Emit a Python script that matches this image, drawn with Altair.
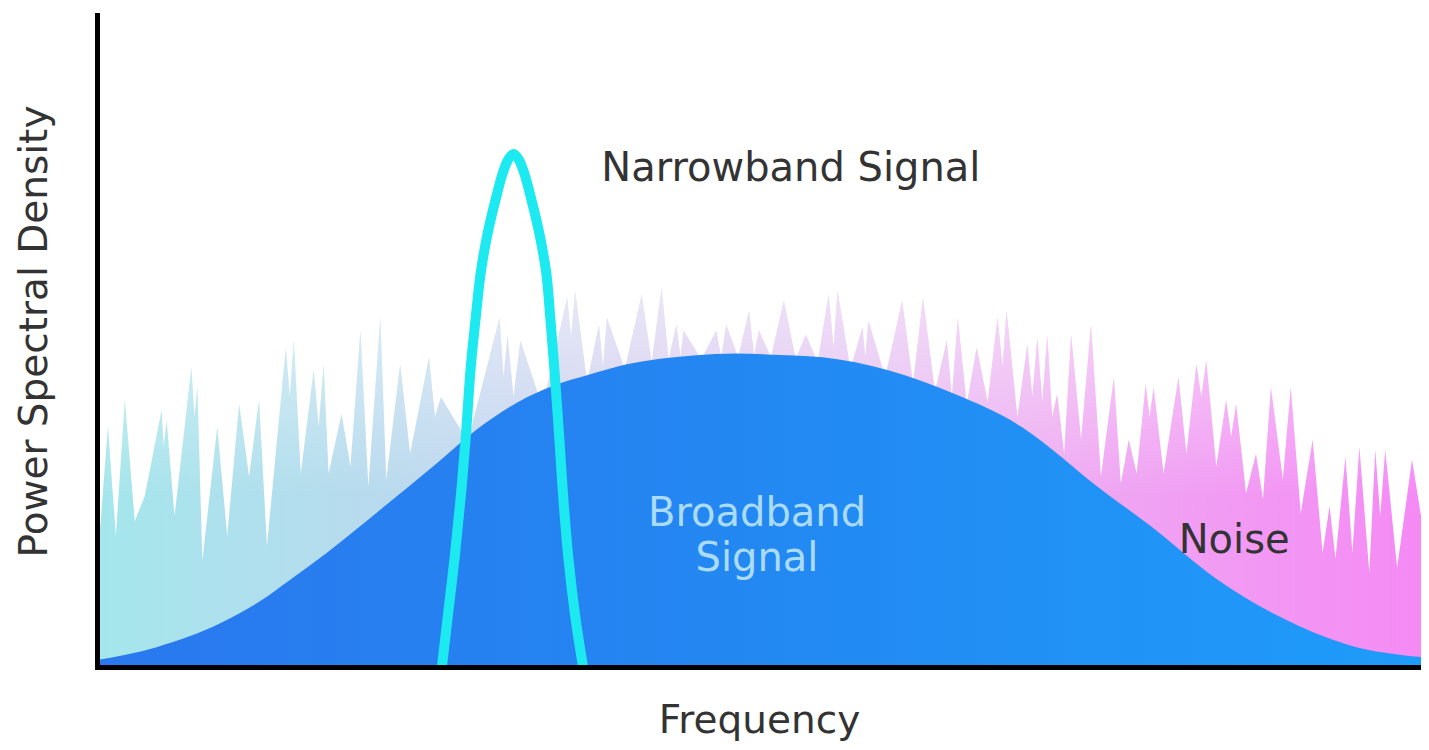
import altair as alt
import pandas as pd

# Noise spectrum (frequency, PSD) - spiky profile
NOISE = [
    (0, 112), (1, 112), (11, 242), (19, 132), (28, 269), (38, 147), (48, 172), (65, 259),
    (67, 222), (70, 249), (78, 152), (95, 302), (98, 252), (101, 282), (106, 107), (121, 242),
    (131, 132), (143, 265), (153, 192), (163, 269), (171, 122), (190, 322), (194, 272), (198, 329),
    (205, 195), (218, 299), (223, 242), (228, 305), (233, 195), (246, 255), (255, 202), (265, 339),
    (273, 182), (285, 352), (291, 189), (305, 305), (315, 215), (334, 312), (340, 252), (346, 272),
    (373, 227), (405, 352), (409, 292), (413, 335), (419, 272), (426, 329), (448, 262), (473, 372),
    (477, 332), (481, 379), (493, 287), (505, 345), (509, 302), (513, 352), (531, 300), (548, 375),
    (558, 307), (568, 382), (575, 310), (583, 345), (587, 312), (590, 339), (608, 310), (623, 339),
    (628, 312), (633, 345), (645, 312), (656, 359), (661, 314), (666, 339), (678, 312), (691, 369),
    (703, 310), (713, 335), (725, 307), (736, 375), (741, 322), (745, 379), (758, 300), (770, 342),
    (773, 312), (776, 349), (793, 292), (810, 369), (821, 285), (831, 372), (843, 277), (855, 329),
    (860, 272), (866, 352), (875, 264), (885, 322), (896, 267), (906, 352), (911, 302), (915, 359),
    (926, 252), (936, 325), (941, 272), (946, 332), (951, 267), (956, 335), (961, 252), (966, 275),
    (973, 215), (980, 335), (990, 229), (1000, 345), (1010, 192), (1023, 292), (1030, 185), (1038, 229),
    (1046, 195), (1055, 285), (1059, 252), (1063, 282), (1073, 195), (1088, 292), (1096, 215), (1106, 305),
    (1111, 272), (1116, 309), (1126, 202), (1136, 269), (1141, 232), (1146, 265), (1156, 175), (1166, 215),
    (1173, 169), (1181, 282), (1193, 189), (1201, 282), (1211, 155), (1223, 229), (1233, 115), (1240, 162),
    (1246, 109), (1256, 212), (1263, 115), (1270, 222), (1280, 95), (1286, 219), (1291, 152), (1296, 219),
    (1308, 100), (1323, 209), (1332, 152),
]

# Broadband signal (bell shaped)
BROADBAND = [
    (0, 7), (60, 20), (126, 45), (165, 67), (193, 87), (231, 115), (293, 165), (338, 202),
    (383, 240), (433, 272), (466, 286), (493, 294), (533, 305), (600, 314), (643, 316), (673, 315),
    (730, 312), (796, 299), (863, 275), (930, 242), (972, 210), (996, 190), (1060, 142), (1126, 89),
    (1193, 49), (1260, 22), (1332, 10),
]

# Narrowband signal (narrow peak)
NARROWBAND = [
    (347, 0), (353, 52), (360, 112), (366, 172), (371, 232), (376, 302), (381, 352), (386, 397),
    (393, 437), (400, 467), (408, 497), (414, 512), (419, 517), (424, 512), (430, 497), (438, 467),
    (445, 437), (452, 397), (456, 352), (460, 302), (465, 232), (469, 172), (474, 112), (481, 52),
    (489, 0),
]

# Labels: (text, frequency, psd)
DARK_LABELS = [("Narrowband Signal", 698, 490), ("Noise", 1144, 115)]
LIGHT_LABELS = [("Broadband", 664, 142), ("Signal", 664, 97)]

X_MAX = 1332
Y_MAX = 657
FONT = "DejaVu Sans"

noise_df = pd.DataFrame(NOISE, columns=["freq", "psd"])
broad_df = pd.DataFrame(BROADBAND, columns=["freq", "psd"])
narrow_df = pd.DataFrame(NARROWBAND, columns=["freq", "psd"])
dark_df = pd.DataFrame(DARK_LABELS, columns=["label", "freq", "psd"])
light_df = pd.DataFrame(LIGHT_LABELS, columns=["label", "freq", "psd"])

x_enc = alt.X(
    "freq:Q",
    scale=alt.Scale(domain=[0, X_MAX], nice=False, zero=False),
    axis=alt.Axis(
        title="Frequency", labels=False, ticks=False, grid=False,
        domainColor="black", domainWidth=5, domainCap="square",
        titleFont=FONT, titleFontSize=39, titleFontWeight="normal", titleColor="#333333",
        titleX=662, titleY=65, titleBaseline="alphabetic", titleAlign="center", zindex=2,
    ),
)
y_enc = alt.Y(
    "psd:Q",
    scale=alt.Scale(domain=[0, Y_MAX], nice=False, zero=False),
    axis=alt.Axis(
        title="Power Spectral Density", labels=False, ticks=False, grid=False,
        domainColor="black", domainWidth=5, domainCap="square",
        titleFont=FONT, titleFontSize=39, titleFontWeight="normal", titleColor="#333333",
        titleX=-51, titleY=316, titleAngle=-90, titleBaseline="alphabetic", titleAlign="center",
        zindex=2,
    ),
)

noise_fill = alt.Gradient(
    gradient="linear", x1=0, x2=1, y1=0, y2=0,
    stops=[
        alt.GradientStop(color="#a4e6ec", offset=0),
        alt.GradientStop(color="#bcd8ee", offset=0.25),
        alt.GradientStop(color="#d6c6ee", offset=0.45),
        alt.GradientStop(color="#eeaaf2", offset=0.72),
        alt.GradientStop(color="#f58af5", offset=1),
    ],
)
fade_fill = alt.Gradient(
    gradient="linear", x1=0, x2=0, y1=1, y2=0,
    stops=[
        alt.GradientStop(color="rgba(255,255,255,0)", offset=0),
        alt.GradientStop(color="rgba(255,255,255,0)", offset=0.45),
        alt.GradientStop(color="rgba(255,255,255,0.55)", offset=1),
    ],
)
broad_fill = alt.Gradient(
    gradient="linear", x1=0, x2=1, y1=0, y2=0,
    stops=[
        alt.GradientStop(color="#2a78ee", offset=0),
        alt.GradientStop(color="#2388f2", offset=0.5),
        alt.GradientStop(color="#1e9cfa", offset=1),
    ],
)

noise = alt.Chart(noise_df).mark_area(
    interpolate="linear", clip=True, fill=noise_fill, opacity=1
).encode(x=x_enc, y=y_enc)

noise_fade = alt.Chart(noise_df).mark_area(
    interpolate="linear", clip=True, fill=fade_fill, opacity=1
).encode(x="freq:Q", y="psd:Q")

broad = alt.Chart(broad_df).mark_area(
    interpolate="monotone", clip=True, fill=broad_fill, opacity=1
).encode(x="freq:Q", y="psd:Q")

narrow = alt.Chart(narrow_df).mark_line(
    interpolate="catmull-rom", clip=True, color="#1de9f0", strokeWidth=10, strokeCap="butt"
).encode(x="freq:Q", y="psd:Q", order=alt.Order("freq:Q"))

dark_text = alt.Chart(dark_df).mark_text(
    font=FONT, fontSize=40, color="#333333", align="center", baseline="alphabetic"
).encode(x="freq:Q", y="psd:Q", text="label:N")

light_text = alt.Chart(light_df).mark_text(
    font=FONT, fontSize=40, color="#aadcfa", align="center", baseline="alphabetic"
).encode(x="freq:Q", y="psd:Q", text="label:N")

chart = alt.layer(noise, noise_fade, broad, narrow, dark_text, light_text).properties(
    width=1324,
    height=652,
    autosize=alt.AutoSizeParams(type="none"),
    padding={"left": 89, "top": 7, "right": 0, "bottom": 75},
    background="white",
).configure_view(stroke=None)

chart.save("out.html", embed_options={"renderer": "svg", "actions": False})
